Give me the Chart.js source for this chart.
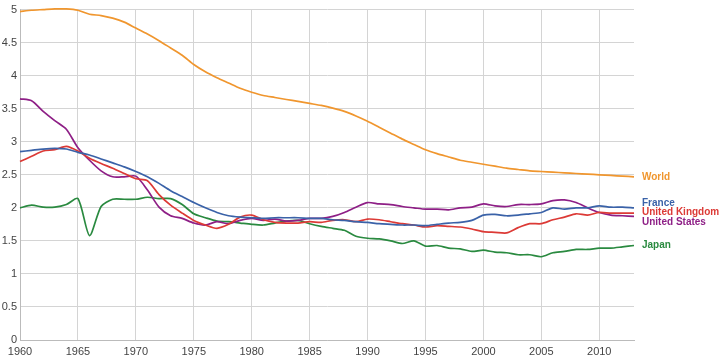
<!DOCTYPE html>
<html>
<head>
<meta charset="utf-8">
<script src="https://cdn.jsdelivr.net/npm/chart.js@4.4.1/dist/chart.umd.min.js"></script>
<style>
  html, body { margin: 0; padding: 0; background: #fff; }
  #wrap { width: 720px; height: 358px; position: relative; }
</style>
</head>
<body>
<div id="wrap"><canvas id="chart"></canvas></div>
<script>
const years = [];
for (let y = 1960; y <= 2013; y++) years.push(y);

const world = [4.97, 4.99, 5.00, 5.01, 5.01, 4.99, 4.93, 4.91, 4.87, 4.81,
    4.72, 4.63, 4.53, 4.42, 4.31, 4.17, 4.06, 3.97, 3.89, 3.81,
    3.75, 3.70, 3.67, 3.64, 3.61, 3.58, 3.55, 3.51, 3.46, 3.39,
    3.31, 3.22, 3.13, 3.04, 2.96, 2.88, 2.82, 2.77, 2.72, 2.69,
    2.66, 2.63, 2.60, 2.58, 2.56, 2.55, 2.54, 2.53, 2.52, 2.51,
    2.50, 2.49, 2.48, 2.47];

const france = [2.85, 2.87, 2.89, 2.90, 2.89, 2.84, 2.80, 2.74, 2.68, 2.62,
    2.55, 2.47, 2.37, 2.26, 2.17, 2.08, 2.00, 1.93, 1.88, 1.86,
    1.85, 1.84, 1.85, 1.85, 1.85, 1.84, 1.84, 1.82, 1.81, 1.79,
    1.78, 1.76, 1.75, 1.74, 1.74, 1.73, 1.75, 1.77, 1.78, 1.81,
    1.89, 1.90, 1.88, 1.89, 1.91, 1.93, 2.00, 1.98, 2.00, 2.00,
    2.03, 2.01, 2.01, 2.00];

const unitedKingdom = [2.70, 2.78, 2.86, 2.88, 2.93, 2.86, 2.75, 2.67, 2.60, 2.52,
    2.44, 2.41, 2.20, 2.04, 1.92, 1.81, 1.74, 1.69, 1.75, 1.86,
    1.89, 1.82, 1.78, 1.77, 1.77, 1.79, 1.78, 1.81, 1.82, 1.79,
    1.83, 1.82, 1.79, 1.76, 1.74, 1.71, 1.73, 1.72, 1.71, 1.68,
    1.64, 1.63, 1.62, 1.70, 1.76, 1.76, 1.82, 1.86, 1.91, 1.89,
    1.93, 1.92, 1.92, 1.92];

const unitedStates = [3.65, 3.62, 3.46, 3.32, 3.19, 2.91, 2.72, 2.56, 2.47, 2.47,
    2.48, 2.27, 2.01, 1.88, 1.84, 1.77, 1.74, 1.79, 1.76, 1.81,
    1.84, 1.81, 1.83, 1.80, 1.81, 1.84, 1.84, 1.87, 1.93, 2.01,
    2.08, 2.06, 2.05, 2.02, 2.00, 1.98, 1.98, 1.97, 2.00, 2.01,
    2.06, 2.03, 2.02, 2.05, 2.05, 2.06, 2.11, 2.12, 2.08, 2.00,
    1.93, 1.89, 1.88, 1.87];

const japan = [2.00, 2.04, 2.01, 2.01, 2.05, 2.14, 1.58, 2.02, 2.13, 2.13,
    2.13, 2.16, 2.14, 2.14, 2.05, 1.91, 1.85, 1.80, 1.79, 1.77,
    1.75, 1.74, 1.77, 1.80, 1.81, 1.76, 1.72, 1.69, 1.66, 1.57,
    1.54, 1.53, 1.50, 1.46, 1.50, 1.42, 1.43, 1.39, 1.38, 1.34,
    1.36, 1.33, 1.32, 1.29, 1.29, 1.26, 1.32, 1.34, 1.37, 1.37,
    1.39, 1.39, 1.41, 1.43];

const seriesNames = ["World", "France", "United Kingdom", "United States", "Japan"];
const seriesValues = [world, france, unitedKingdom, unitedStates, japan];
const seriesColors = ["#f0962e", "#3a62a8", "#dc3a36", "#8e1f86", "#2a8a40"];

function toPoints(values) {
    return values.map((v, i) => ({ x: years[i], y: v }));
}

// draws the series names at the end of each line, pushed apart when they overlap
const endLabels = {
    id: "endLabels",
    afterDatasetsDraw(chart) {
        const ctx = chart.ctx;
        const yScale = chart.scales.y;
        const gap = 9.5;

        let items = chart.data.datasets.map(ds => ({
            text: ds.label,
            color: ds.borderColor,
            y: yScale.getPixelForValue(ds.data[ds.data.length - 1].y)
        })).sort((a, b) => a.y - b.y);

        let groups = items.map(it => ({ items: [it], center: it.y }));
        let merged = true;
        while (merged) {
            merged = false;
            for (let i = 0; i < groups.length - 1; i++) {
                const a = groups[i], b = groups[i + 1];
                const aBottom = a.center + (a.items.length - 1) * gap / 2;
                const bTop = b.center - (b.items.length - 1) * gap / 2;
                if (bTop - aBottom < gap) {
                    const all = a.items.concat(b.items);
                    const center = all.reduce((s, it) => s + it.y, 0) / all.length;
                    groups.splice(i, 2, { items: all, center });
                    merged = true;
                    break;
                }
            }
        }

        ctx.save();
        ctx.font = "bold 10px 'Liberation Sans', Arial, sans-serif";
        ctx.textBaseline = "middle";
        ctx.textAlign = "left";
        const x = chart.chartArea.right + 8;
        groups.forEach(g => {
            const top = g.center - (g.items.length - 1) * gap / 2;
            g.items.forEach((it, k) => {
                ctx.fillStyle = it.color;
                ctx.fillText(it.text, x, top + k * gap);
            });
        });
        ctx.restore();
    }
};

new Chart(document.getElementById("chart").getContext("2d"), {
    type: "line",
    data: {
        datasets: seriesNames.map((name, i) => ({
            label: name,
            data: toPoints(seriesValues[i]),
            borderColor: seriesColors[i],
            borderWidth: 1.7,
            pointRadius: 0,
            tension: 0.25,
            fill: false,
            clip: 4
        }))
    },
    plugins: [endLabels],
    options: {
        responsive: true,
        maintainAspectRatio: false,
        animation: false,
        layout: {
            padding: { top: 7, right: 86, bottom: 0, left: 0 }
        },
        scales: {
            x: {
                type: "linear",
                min: 1960,
                max: 2013,
                afterFit: scale => { scale.height = 18; },
                grid: {
                    color: "#d4d4d4",
                    drawTicks: false
                },
                border: { color: "#bbbbbb" },
                ticks: {
                    stepSize: 5,
                    includeBounds: false,
                    maxRotation: 0,
                    padding: 5,
                    color: "#444",
                    font: { size: 11, family: "'Liberation Sans', Arial, sans-serif" },
                    callback: v => String(v)
                }
            },
            y: {
                min: 0,
                max: 5,
                afterFit: scale => { scale.width = 20; },
                grid: {
                    color: "#d4d4d4",
                    drawTicks: false
                },
                border: { color: "#bbbbbb" },
                ticks: {
                    stepSize: 0.5,
                    padding: 3,
                    color: "#444",
                    font: { size: 11, family: "'Liberation Sans', Arial, sans-serif" },
                    callback: v => String(v)
                }
            }
        },
        plugins: {
            legend: { display: false },
            tooltip: { enabled: false }
        }
    }
});
</script>
</body>
</html>
